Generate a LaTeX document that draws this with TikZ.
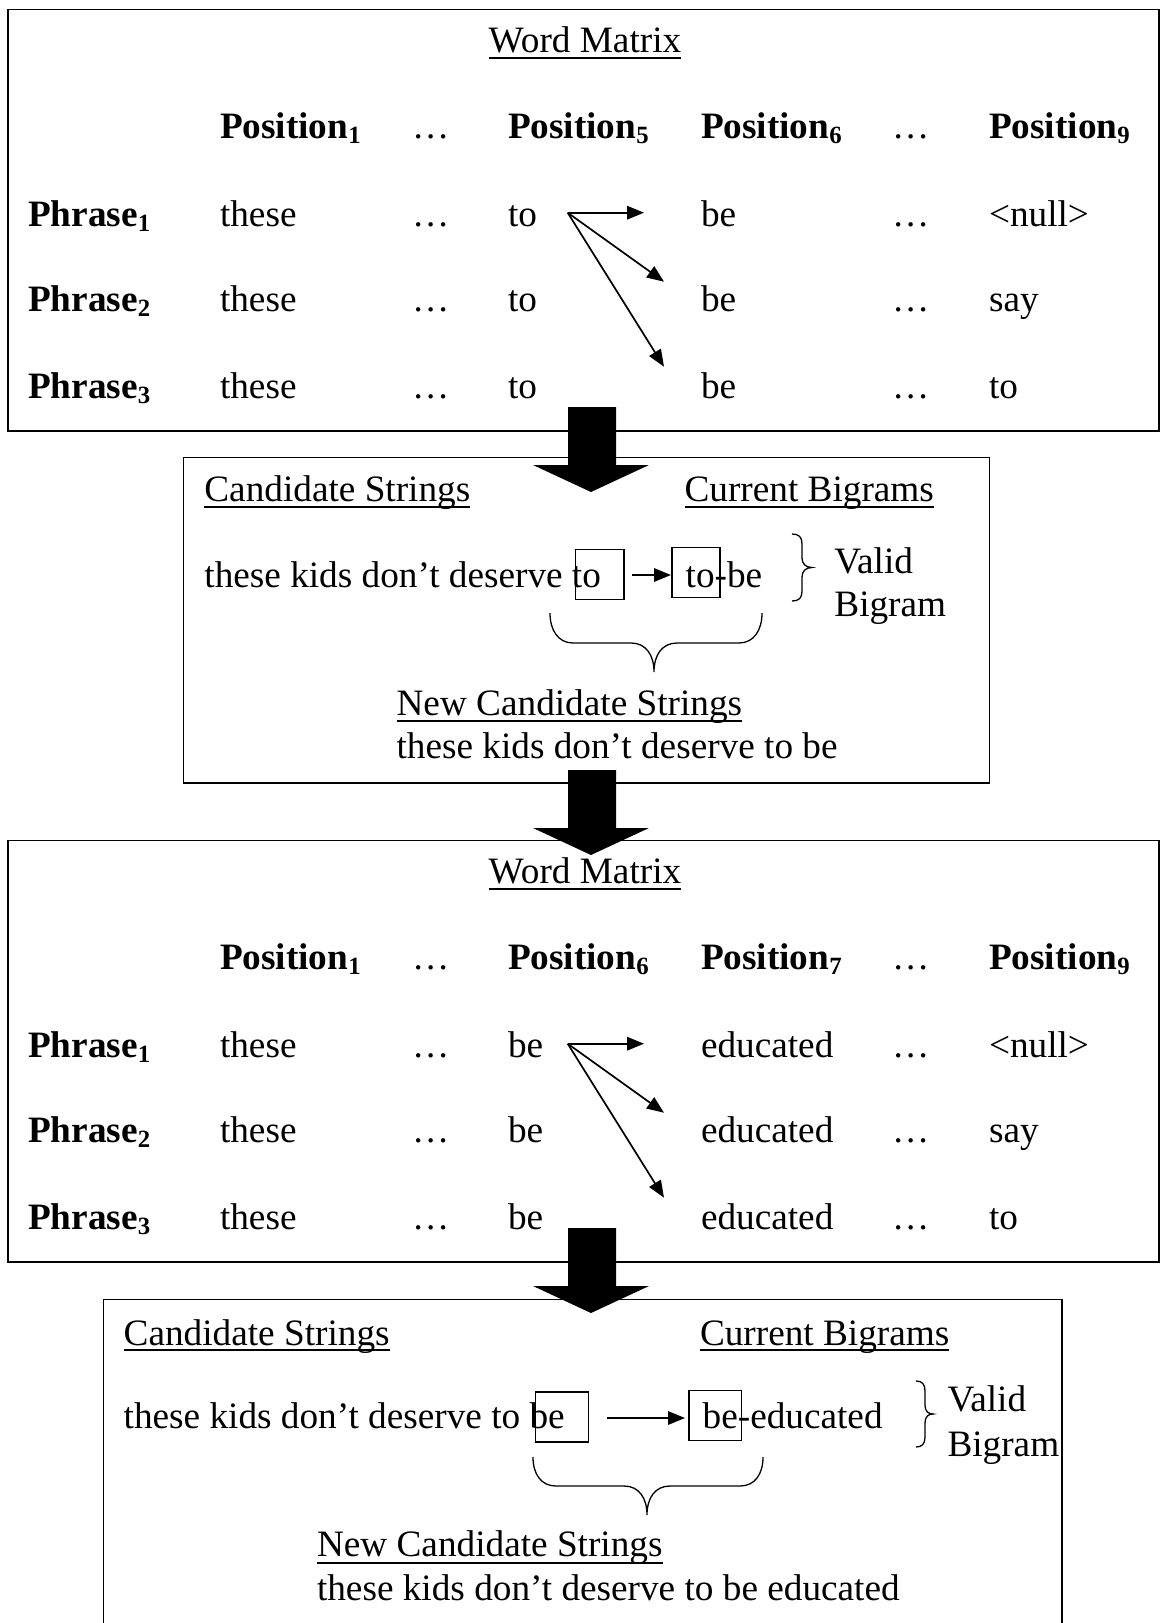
\documentclass[tikz,border=0pt]{standalone}
\usepackage{fontspec}
\setmainfont{Liberation Serif}
\usetikzlibrary{arrows.meta,calc}

% small bold-capable subscript used in the column and row headers
\newcommand\sbs[1]{\raisebox{-5pt}{\fontsize{24.8}{24.8}\selectfont #1}}

% one word-matrix panel: #1 vertical offset, #2 name prefix,
% #3/#4 indices of the two middle positions, #5/#6 words in those columns
\newcommand\wordmatrix[6]{%
\begin{scope}[shift={(0,#1)}]
  \draw[frame] (8,9.3) rectangle (1159,431);
  \node[anchor=base] (#2title) at (585,52.7) {Word Matrix};
  \draw[uline] ($(#2title.base west)+(0,5)$) -- ($(#2title.base east)+(0,5)$);
  \node[hd] (#2p1) at (220,138) {Position\sbs{1}};
  \node (#2d1) at (412,138) {…};
  \node[hd] (#2pa) at (508,138) {Position\sbs{#3}};
  \node[hd] (#2pb) at (701,138) {Position\sbs{#4}};
  \node (#2d2) at (892,138) {…};
  \node[hd] (#2p9) at (989,138) {Position\sbs{9}};
  \foreach \i/\y/\lw in {1/226.7/<null>, 2/311.7/say, 3/398/to} {
    \node[hd] (#2ph\i) at (28.2,\y) {Phrase\sbs{\i}};
    \node (#2w\i) at (220,\y) {these};
    \node (#2x\i) at (412,\y) {…};
    \node (#2a\i) at (508,\y) {#5};
    \node (#2b\i) at (701,\y) {#6};
    \node (#2y\i) at (892,\y) {…};
    \node (#2z\i) at (989,\y) {\lw};
  }
  \coordinate (#2src) at (567.7,212.7);
  \coordinate (#2e1) at (644,212.7);
  \coordinate (#2e2) at (664,281.7);
  \coordinate (#2e3) at (664,366.7);
  \draw[link] (#2src) -- (#2e1);
  \draw[link] (#2src) -- (#2e2);
  \draw[link] (#2src) -- (#2e3);
\end{scope}}

% thick block arrow pointing down; #1 = top of the shaft
\newcommand\blockarrow[1]{%
  \fill[black] (568,#1) -- (616,#1) -- (616,#1+58) -- (649,#1+58)
    -- (591,#1+85) -- (533,#1+58) -- (568,#1+58) -- cycle;}

\begin{document}
\begin{tikzpicture}[x=1pt,y=-1pt,
  every node/.style={inner sep=0pt, outer sep=0pt, anchor=base west,
    font=\fontsize{37.25}{44}\selectfont},
  hd/.style={font=\fontsize{37.25}{44}\selectfont\bfseries},
  frame/.style={line width=1.6pt},
  uline/.style={line width=2pt},
  link/.style={line width=1.7pt, -{Triangle[length=17pt,width=13.5pt]}},
  wordbox/.style={draw, line width=1.5pt},
  bracepath/.style={line width=1.3pt},
]
\useasboundingbox (0,0) rectangle (1163,1623);
\fill[white] (0,0) rectangle (1163,1623);

% ---------- first word matrix ----------
\wordmatrix{0}{ma}{5}{6}{to}{be}

% ---------- first candidate-string panel ----------
\draw[frame] (183.3,457.3) rectangle (989.5,782.7);
\node (cs2) at (204.4,501.7) {Candidate Strings};
\draw[uline] ($(cs2.base west)+(0,5)$) -- ($(cs2.base east)+(0,5)$);
\node (cb2) at (684.6,501.7) {Current Bigrams};
\draw[uline] ($(cb2.base west)+(0,5)$) -- ($(cb2.base east)+(0,5)$);
\node (line2) at (204.4,587.5) {these kids don’t deserve to};
\node (pair2) at (685.7,587.5) {to-be};
\node[wordbox, anchor=north west, minimum width=48.3pt, minimum height=50pt] (k2a) at (575.7,549.3) {};
\node[wordbox, anchor=north west, minimum width=48pt, minimum height=50pt] (k2b) at (672,547.7) {};
\coordinate (s2) at (632,575);
\coordinate (t2) at (671,575);
\draw[link] (s2) -- (t2);
\draw[bracepath] (792,534) .. controls (799,534) and (802,537) .. (802,544) -- (802,558)
  .. controls (802,564) and (806,567.5) .. (812,567.5)
  .. controls (806,567.5) and (802,571) .. (802,577) -- (802,591)
  .. controls (802,598) and (799,601) .. (792,601);
\node (valid2) at (834.4,573) {Valid};
\node (bigram2) at (834.4,616.7) {Bigram};
\draw[bracepath] (550,613) .. controls (550,630) and (558,643) .. (573,643) -- (631,643)
  .. controls (646,643) and (654,655) .. (654,672)
  .. controls (654,655) and (662,643) .. (677,643) -- (739,643)
  .. controls (754,643) and (762,630) .. (762,613);
\node (ncs2) at (396.6,715) {New Candidate Strings};
\draw[uline] ($(ncs2.base west)+(0,5.5)$) -- ($(ncs2.base east)+(0,5.5)$);
\node (res2) at (396.6,758) {these kids don’t deserve to be};

% ---------- second word matrix ----------
\wordmatrix{831}{mb}{6}{7}{be}{educated}

% ---------- second candidate-string panel (runs off the bottom) ----------
\draw[frame] (103.4,1625) -- (103.4,1299.3) -- (1062,1299.3) -- (1062,1625);
\node (cs4) at (123.7,1345) {Candidate Strings};
\draw[uline] ($(cs4.base west)+(0,5)$) -- ($(cs4.base east)+(0,5)$);
\node (cb4) at (700,1345) {Current Bigrams};
\draw[uline] ($(cb4.base west)+(0,5)$) -- ($(cb4.base east)+(0,5)$);
\node (line4) at (123.7,1428.3) {these kids don’t deserve to be};
\node (pair4) at (702.7,1428.3) {be-educated};
\node[wordbox, anchor=north west, minimum width=53pt, minimum height=50pt] (k4a) at (535.7,1392) {};
\node[wordbox, anchor=north west, minimum width=52.7pt, minimum height=50pt] (k4b) at (689,1390.7) {};
\coordinate (s4) at (607,1418);
\coordinate (t4) at (685,1418);
\draw[link] (s4) -- (t4);
\draw[bracepath] (916,1381) .. controls (922,1381) and (925,1384) .. (925,1391) -- (925,1405)
  .. controls (925,1411) and (928,1414) .. (933,1414)
  .. controls (928,1414) and (925,1417) .. (925,1423) -- (925,1437)
  .. controls (925,1444) and (922,1447) .. (916,1447);
\node (valid4) at (947.5,1411.7) {Valid};
\node (bigram4) at (947.5,1456.7) {Bigram};
\draw[bracepath] (533,1457) .. controls (533,1474) and (541,1486) .. (556,1486) -- (624,1486)
  .. controls (639,1486) and (647,1498) .. (647,1515)
  .. controls (647,1498) and (655,1486) .. (670,1486) -- (740,1486)
  .. controls (755,1486) and (763,1474) .. (763,1457);
\node (ncs4) at (317,1556.7) {New Candidate Strings};
\draw[uline] ($(ncs4.base west)+(0,6)$) -- ($(ncs4.base east)+(0,6)$);
\node (res4) at (317,1600) {these kids don’t deserve to be educated};

% ---------- block arrows between the panels ----------
\blockarrow{407}
\blockarrow{770}
\blockarrow{1228}
\end{tikzpicture}
\end{document}
